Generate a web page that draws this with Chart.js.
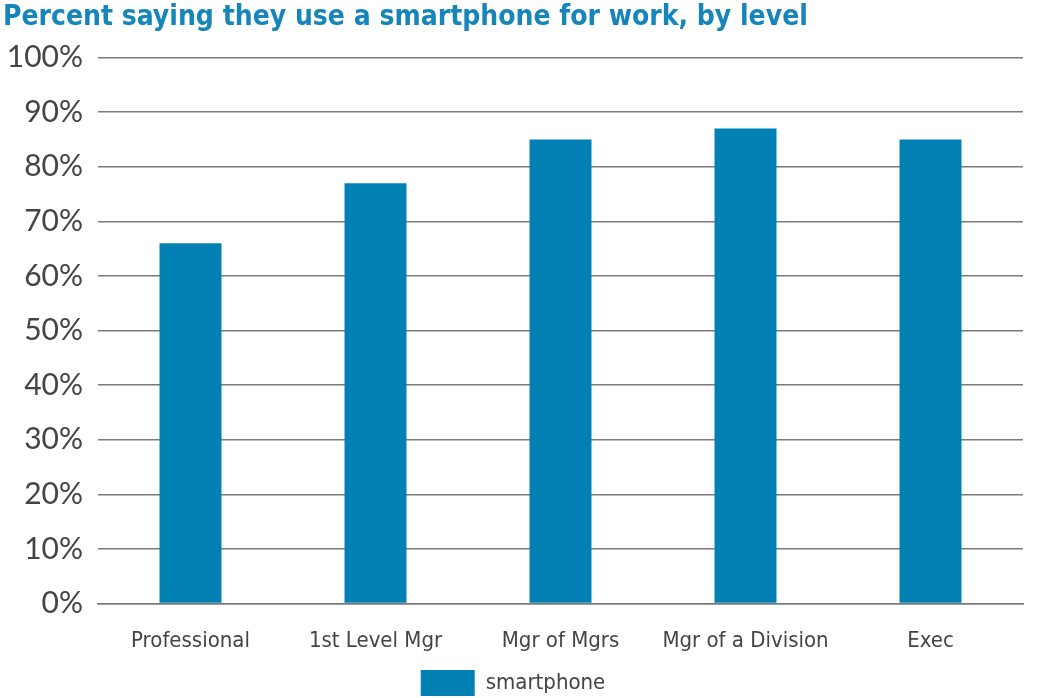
<!doctype html>
<html lang="en">
<head>
  <meta charset="utf-8">
  <title>Smartphone use for work, by level</title>
  <script src="https://cdn.jsdelivr.net/npm/chart.js@4/dist/chart.umd.min.js"></script>
  <style>
    html, body { margin: 0; padding: 0; background: #fff; }
    #wrap { width: 1043px; height: 698px; position: relative; }
  </style>
</head>
<body>
<div id="wrap">
  <canvas id="chart"></canvas>
</div>
<script>
  // data
  const levels = ['Professional', '1st Level Mgr', 'Mgr of Mgrs', 'Mgr of a Division', 'Exec'];
  const smartphone = [66, 77, 85, 87, 85];
  const yTicks = [0, 10, 20, 30, 40, 50, 60, 70, 80, 90, 100];

  const blue = '#0080b3';
  const gridGrey = '#7a7a7a';
  const textGrey = '#444';

  new Chart(document.getElementById('chart').getContext('2d'), {
    type: 'bar',
    data: {
      labels: levels,
      datasets: [{
        label: 'smartphone',
        data: smartphone,
        backgroundColor: blue,
        borderWidth: 0,
        barPercentage: 0.335,
        categoryPercentage: 1
      }]
    },
    options: {
      responsive: true,
      maintainAspectRatio: false,
      animation: false,
      layout: { padding: { left: 3, right: 20, top: 0, bottom: -8 } },
      plugins: {
        title: {
          display: true,
          text: 'Percent saying they use a smartphone for work, by level',
          align: 'start',
          color: '#1585bb',
          font: { family: 'DejaVu Sans Condensed', size: 28, weight: 'bold' },
          padding: { top: 1, bottom: 23 }
        },
        legend: {
          position: 'bottom',
          labels: {
            boxWidth: 54,
            boxHeight: 26,
            color: textGrey,
            font: { family: 'DejaVu Sans Condensed', size: 22 },
            padding: 0
          }
        },
        tooltip: { enabled: false }
      },
      scales: {
        x: {
          grid: { display: false },
          border: { display: true, color: gridGrey, width: 1.5 },
          ticks: {
            color: textGrey,
            font: { family: 'DejaVu Sans Condensed', size: 22 },
            padding: 16
          }
        },
        y: {
          min: 0,
          max: 100,
          afterBuildTicks: function (axis) {
            axis.ticks = yTicks.map(v => ({ value: v }));
          },
          afterFit: function (axis) {
            axis.width = 95;
          },
          grid: { color: gridGrey, lineWidth: 1.5, drawTicks: false },
          border: { display: false },
          ticks: {
            color: textGrey,
            font: { family: 'Lato', size: 30 },
            padding: 15,
            callback: v => v + '%'
          }
        }
      }
    }
  });
</script>
</body>
</html>
